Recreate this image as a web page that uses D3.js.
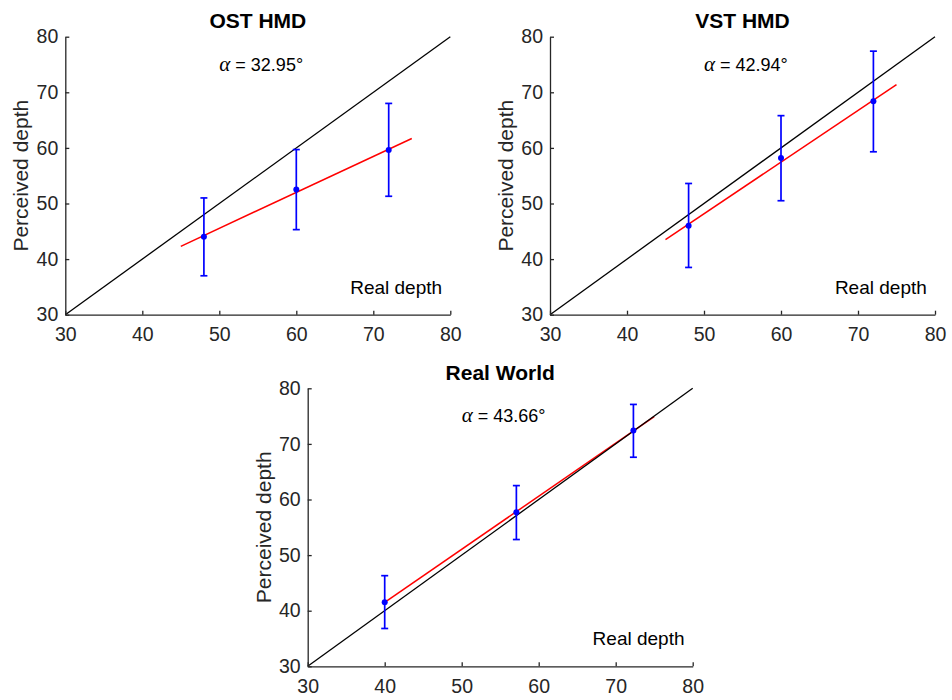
<!DOCTYPE html>
<html>
<head>
<meta charset="utf-8">
<script src="https://cdn.jsdelivr.net/npm/d3@7/dist/d3.min.js"></script>
<style>
    body { margin: 0; background: #fff; }
    svg text { font-family: "Liberation Sans", Arial, Helvetica, sans-serif; }
</style>
</head>
<body>
<div id="chart"></div>
<script>
// values
const panelTitles = ["OST HMD", "VST HMD", "Real World"];
const alphaLabels = ["32.95", "42.94", "43.66"];
const tickValues = [30, 40, 50, 60, 70, 80];

const ostX = [48, 60, 72];
const ostMean = [44.0, 52.5, 59.6];
const ostLow = [37.0, 45.3, 51.3];
const ostHigh = [51.0, 59.7, 68.0];
const ostFitX = [45, 75];
const ostFitY = [42.3, 61.7];

const vstX = [48, 60, 72];
const vstMean = [46.0, 58.2, 68.4];
const vstLow = [38.5, 50.5, 59.3];
const vstHigh = [53.6, 65.8, 77.4];
const vstFitX = [45, 75];
const vstFitY = [43.5, 71.4];

const realX = [40.0, 57.1, 72.3];
const realMean = [41.5, 57.7, 72.4];
const realLow = [36.8, 52.8, 67.6];
const realHigh = [46.3, 62.5, 77.1];
const realFitX = [40, 75];
const realFitY = [41.5, 74.9];

const refX = [30, 80];
const refY = [30, 80];

const AXIS_COLOR = "#262626";

const svg = d3.select("#chart").append("svg")
    .attr("width", 952)
    .attr("height", 700)

const plotW = 385;
const plotH = 278;

// left, top of each axes box
const panels = [
    {left: 65.3, top: 36.7, x: ostX, mean: ostMean, low: ostLow, high: ostHigh, fitX: ostFitX, fitY: ostFitY},
    {left: 550, top: 36.7, x: vstX, mean: vstMean, low: vstLow, high: vstHigh, fitX: vstFitX, fitY: vstFitY},
    {left: 307.7, top: 388.3, x: realX, mean: realMean, low: realLow, high: realHigh, fitX: realFitX, fitY: realFitY}
];

panels.forEach((p, i) => {
    let g = svg.append("g")
        .attr("transform", "translate(" + p.left + "," + p.top + ")")

    let x = d3.scaleLinear().domain([30, 80]).range([0, plotW]);
    let y = d3.scaleLinear().domain([30, 80]).range([plotH, 0]);

    let line = d3.line()
        .x((d) => x(d[0]))
        .y((d) => y(d[1]))

    // fitted line
    g.append("path")
        .datum(d3.zip(p.fitX, p.fitY))
        .attr("d", line)
        .attr("fill", "none")
        .attr("stroke", "#ff0000")
        .attr("stroke-width", 1.5)

    // y = x reference
    g.append("path")
        .datum(d3.zip(refX, refY))
        .attr("d", line)
        .attr("fill", "none")
        .attr("stroke", "#000")
        .attr("stroke-width", 1.3)

    let pts = p.x.map((v, k) => ({x: v, mean: p.mean[k], low: p.low[k], high: p.high[k]}));

    let bars = g.selectAll(".err")
        .data(pts)
        .enter()
        .append("g")
        .attr("class", "err")
        .attr("stroke", "#0000ff")
        .attr("stroke-width", 1.7)

    bars.append("line")
        .attr("x1", (d) => x(d.x))
        .attr("x2", (d) => x(d.x))
        .attr("y1", (d) => y(d.low))
        .attr("y2", (d) => y(d.high))
    bars.append("line")
        .attr("x1", (d) => x(d.x) - 3.5)
        .attr("x2", (d) => x(d.x) + 3.5)
        .attr("y1", (d) => y(d.low))
        .attr("y2", (d) => y(d.low))
    bars.append("line")
        .attr("x1", (d) => x(d.x) - 3.5)
        .attr("x2", (d) => x(d.x) + 3.5)
        .attr("y1", (d) => y(d.high))
        .attr("y2", (d) => y(d.high))

    g.selectAll(".dot")
        .data(pts)
        .enter()
        .append("circle")
        .attr("class", "dot")
        .attr("cx", (d) => x(d.x))
        .attr("cy", (d) => y(d.mean))
        .attr("r", 3)
        .attr("fill", "#0000ff")

    // axes, ticks pointing inward like matlab
    let xAxis = g.append("g")
        .attr("transform", "translate(0," + plotH + ")")
        .call(d3.axisBottom(x).tickValues(tickValues).tickSize(-4).tickSizeOuter(0).tickPadding(12.5))
    let yAxis = g.append("g")
        .call(d3.axisLeft(y).tickValues(tickValues).tickSize(-4).tickSizeOuter(0).tickPadding(7))

    ;[xAxis, yAxis].forEach((a) => {
        a.select(".domain").attr("stroke", AXIS_COLOR).attr("stroke-width", 1.3)
        a.selectAll(".tick line").attr("stroke", AXIS_COLOR).attr("stroke-width", 1.3)
        a.selectAll(".tick text")
            .attr("fill", AXIS_COLOR)
            .style("font-size", "19.5px")
            .style("font-family", "'Liberation Sans', Arial, sans-serif")
    })

    g.append("text")
        .attr("x", plotW / 2)
        .attr("y", -8.5)
        .attr("text-anchor", "middle")
        .style("font-size", "21px")
        .style("font-weight", "bold")
        .attr("fill", "#000")
        .text(panelTitles[i])

    g.append("text")
        .attr("transform", "translate(-37," + plotH / 2 + ") rotate(-90)")
        .attr("text-anchor", "middle")
        .style("font-size", "21px")
        .attr("fill", AXIS_COLOR)
        .text("Perceived depth")

    let alpha = g.append("text")
        .attr("x", x(50))
        .attr("y", y(75))
        .attr("dy", "0.35em")
        .style("font-size", "18px")
        .attr("fill", "#000")
    alpha.append("tspan")
        .style("font-family", "'Liberation Serif', 'Times New Roman', serif")
        .style("font-style", "italic")
        .style("font-size", "21px")
        .text("α")
    alpha.append("tspan")
        .text(" = " + alphaLabels[i] + "°")

    g.append("text")
        .attr("x", x(67))
        .attr("y", y(35))
        .attr("dy", "0.35em")
        .style("font-size", "19px")
        .attr("fill", "#000")
        .text("Real depth")
});
</script>
</body>
</html>
